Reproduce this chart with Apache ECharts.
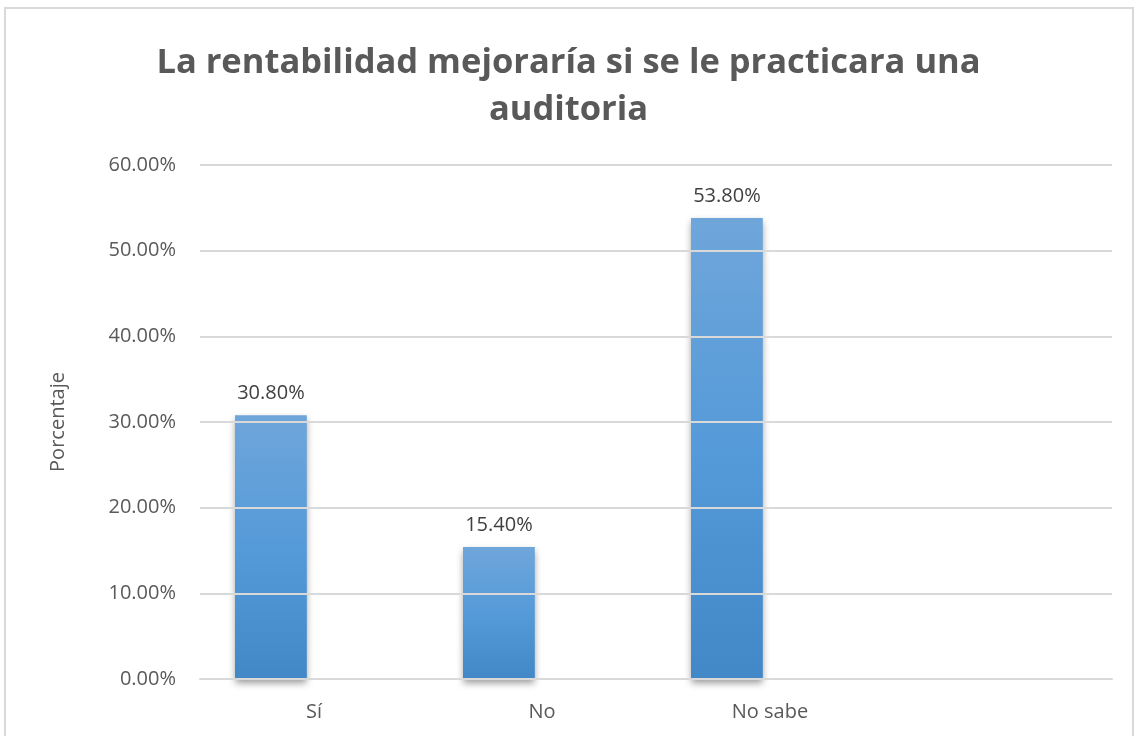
<!DOCTYPE html>
<html>
<head>
<meta charset="utf-8">
<title>Rentabilidad</title>
<script src="https://cdn.jsdelivr.net/npm/echarts@6/dist/echarts.min.js"></script>
<style>
  html, body { margin: 0; padding: 0; background: #fff; }
  #frame {
    position: absolute; left: 4px; top: 7px; width: 1130px; height: 740px;
    border: 2px solid #d9d9d9; box-sizing: border-box;
  }
  #chart { position: absolute; left: 0; top: 0; width: 1137px; height: 736px; }
</style>
</head>
<body>
<div id="frame"></div>
<div id="chart"></div>
<script>
// datos del gráfico
const categories = ['Sí', 'No', 'No sabe', '']
const porcentajes = [30.8, 15.4, 53.8, null]
const vacio = [null, null, null, null] // segunda serie vacía (ocupa el hueco como en Excel)
const yTicks = { min: 0, max: 60, interval: 10 }

const chart = echarts.init(document.getElementById('chart'))
const labelFont = '"Open Sans", "Noto Sans", sans-serif'

const barColor = new echarts.graphic.LinearGradient(0, 0, 0, 1, [
  { offset: 0, color: '#6fa6da' },
  { offset: 0.5, color: '#559ad9' },
  { offset: 1, color: '#4288c7' },
])

chart.setOption({
  animation: false,
  title: {
    text: 'La rentabilidad mejoraría si se le practicara una\nauditoria',
    left: 'center',
    top: 35,
    textStyle: {
      fontFamily: '"Open Sans", sans-serif',
      fontWeight: 'bold',
      fontSize: 34.5,
      lineHeight: 47,
      color: '#595959',
    },
  },
  grid: { left: 200, right: 25, top: 165, bottom: 57 },
  xAxis: {
    type: 'category',
    data: categories,
    axisLine: { lineStyle: { color: '#d9d9d9', width: 2 } },
    axisTick: { show: false },
    axisLabel: { color: '#595959', fontSize: 20, fontFamily: labelFont, margin: 23 },
  },
  yAxis: {
    type: 'value',
    min: yTicks.min,
    max: yTicks.max,
    interval: yTicks.interval,
    name: 'Porcentaje',
    nameLocation: 'middle',
    nameGap: 132,
    nameTextStyle: { color: '#595959', fontSize: 20, fontFamily: labelFont },
    axisLine: { show: false },
    axisTick: { show: false },
    axisLabel: {
      color: '#595959', fontSize: 20, fontFamily: labelFont, margin: 24,
      formatter: (v) => v.toFixed(2) + '%',
    },
    splitLine: { lineStyle: { color: '#d9d9d9', width: 2 } },
  },
  series: [
    {
      type: 'bar',
      data: porcentajes,
      z: -1,
      barGap: '20%',
      barCategoryGap: '30.7%',
      itemStyle: {
        color: barColor,
        shadowColor: 'rgba(0,0,0,0.4)',
        shadowBlur: 7,
        shadowOffsetY: 4,
      },
      label: {
        show: true,
        position: 'top',
        distance: 12,
        color: '#404040',
        fontSize: 20,
        fontFamily: labelFont,
        formatter: (p) => p.value.toFixed(2) + '%',
      },
    },
    {
      type: 'bar',
      data: vacio,
      z: -1,
    },
  ],
})
</script>
</body>
</html>
